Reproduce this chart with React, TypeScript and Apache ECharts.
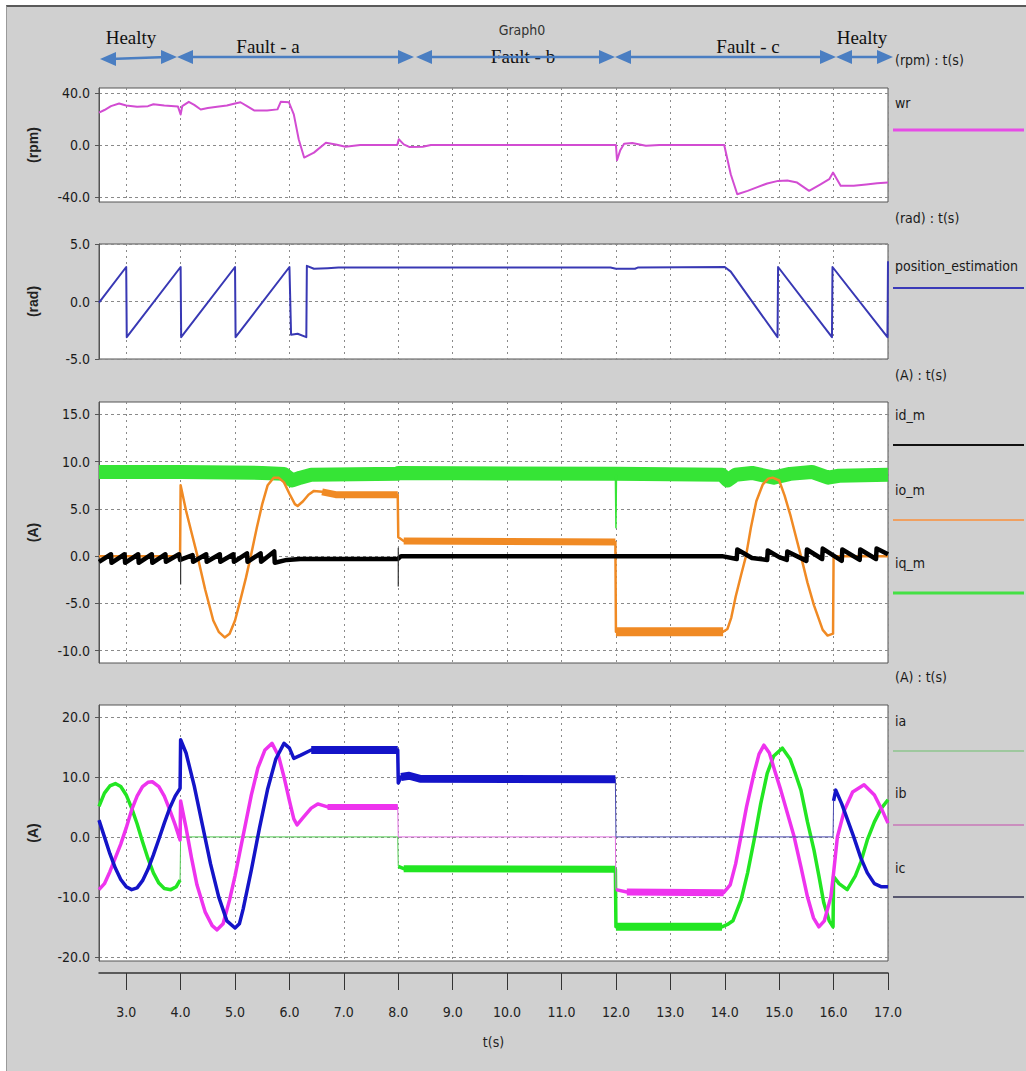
import React, { useEffect, useRef } from 'react';
import * as echarts from 'echarts';

type P = [number, number];

// ---------- tick values ----------
const xTicks = [3, 4, 5, 6, 7, 8, 9, 10, 11, 12, 13, 14, 15, 16, 17];
const wrTicks = [-40, 0, 40];
const posTicks = [-5, 0, 5];
const idqTicks = [-10, -5, 0, 5, 10, 15];
const abcTicks = [-20, -10, 0, 10, 20];

// ---------- panel 1 : wr (rpm) ----------
const wrData: P[] = [
  [2.5, 25], [2.6, 27], [2.72, 30], [2.87, 32], [3.0, 30.5], [3.2, 29.5], [3.4, 30], [3.5, 31.5],
  [3.7, 30.5], [3.95, 29.8], [4.0, 23.5], [4.03, 30], [4.15, 33.3], [4.25, 31], [4.37, 27.4],
  [4.5, 28.5], [4.67, 29.5], [4.85, 30.5], [4.98, 31.8], [5.1, 33], [5.22, 30], [5.35, 26.7],
  [5.59, 26.7], [5.78, 27.5], [5.84, 33.3], [5.99, 33], [6.08, 23.6], [6.17, 4.4], [6.27, -9.7],
  [6.45, -5.9], [6.67, 1.8], [6.85, 0.4], [7.03, -1.3], [7.3, 0], [7.98, 0], [8.01, 4.4],
  [8.1, 0.5], [8.2, -1.5], [8.45, -1.3], [8.6, 0], [12.0, 0], [12.02, -11.8], [12.08, -4],
  [12.15, 1], [12.3, 1.5], [12.55, -0.5], [12.8, 0], [13.99, 0], [14.11, -22.6], [14.23, -38],
  [14.42, -35.4], [14.6, -32.5], [14.78, -29.7], [14.98, -27.7], [15.15, -27.4], [15.33, -29],
  [15.55, -35.4], [15.76, -30.4], [15.92, -26.4], [15.99, -21.3], [16.13, -31.5], [16.37, -31.5],
  [16.6, -30.4], [16.8, -29.5], [17.0, -29],
];

// ---------- panel 2 : position_estimation (rad) ----------
const posData: P[] = [
  [2.5, -0.1], [3.0, 3.0], [3.01, -3.1], [4.0, 3.0], [4.01, -3.1], [5.0, 3.0], [5.01, -3.1],
  [6.0, 3.0], [6.03, -2.9], [6.15, -2.8], [6.31, -3.1], [6.32, 3.1], [6.45, 2.85], [6.7, 2.9],
  [6.9, 2.95], [11.9, 2.95], [12.0, 2.85], [12.35, 2.85], [12.4, 2.95], [14.0, 3.0], [14.11, 2.6],
  [14.97, -3.1], [14.98, 3.0], [15.97, -3.1], [15.98, 3.0], [16.99, -3.1], [17.0, 3.5],
];

// ---------- panel 3 : id_m / io_m / iq_m (A) ----------
const iqData: P[] = [
  [2.5, 8.9], [4.0, 8.9], [5.5, 8.8], [5.9, 8.7], [6.05, 8.0], [6.2, 8.3], [6.4, 8.6], [7.99, 8.7],
  [8.0, 8.8], [12.0, 8.7], [13.95, 8.6], [14.05, 8.0], [14.2, 8.6], [14.5, 8.8], [14.9, 8.3],
  [15.2, 8.7], [15.6, 8.9], [15.9, 8.3], [16.1, 8.5], [17.0, 8.6],
];
const iqSpike: P[] = [[11.99, 8.6], [12.0, 3.0], [12.01, 8.6]];

const ioData: P[] = [
  [2.5, 0], [3.99, 0], [4.0, 7.5], [4.1, 4.8], [4.2, 2.5], [4.31, 0], [4.45, -3.5], [4.6, -6.8],
  [4.7, -8.0], [4.81, -8.6], [4.9, -8.2], [5.0, -6.8], [5.1, -4.6], [5.2, -2.3], [5.29, 0],
  [5.4, 3.0], [5.5, 5.5], [5.6, 7.5], [5.71, 8.3], [5.8, 8.3], [5.9, 7.8], [6.0, 6.6], [6.1, 5.5],
  [6.15, 5.3], [6.25, 5.8], [6.35, 6.5], [6.45, 6.9], [6.6, 6.8], [6.85, 6.5], [7.99, 6.5],
  [8.0, 2.0], [8.1, 1.6], [11.99, 1.5], [12.0, -8.0], [13.97, -8.0], [14.05, -7.7], [14.12, -6.5],
  [14.2, -4.3], [14.3, -2], [14.39, 0], [14.48, 3], [14.58, 5.8], [14.7, 7.6], [14.8, 8.2],
  [14.88, 8.3], [15.0, 8.0], [15.1, 6.4], [15.21, 4.25], [15.4, 0], [15.52, -2.8], [15.64, -5.2],
  [15.8, -7.8], [15.89, -8.4], [15.99, -8.2], [16.0, 0], [17.0, 0],
];

const idData: P[] = [
  [2.5, -0.6], [2.72, 0.2], [2.73, -0.7], [2.97, 0.2], [2.98, -0.7], [3.22, 0.2], [3.23, -0.7],
  [3.47, 0.2], [3.48, -0.7], [3.72, 0.2], [3.73, -0.6], [3.97, 0.2], [3.99, -0.4], [4.22, 0.1],
  [4.23, -0.6], [4.47, 0.2], [4.48, -0.6], [4.72, 0.2], [4.73, -0.6], [4.97, 0.2], [4.98, -0.6],
  [5.22, 0.3], [5.23, -0.6], [5.47, 0.3], [5.48, -0.6], [5.72, 0.5], [5.73, -0.7], [5.95, -0.4],
  [6.2, -0.3], [7.99, -0.3], [8.05, 0], [13.95, 0], [14.22, -0.3], [14.23, 0.7], [14.5, -0.2],
  [14.78, -0.4], [14.79, 0.6], [15.0, -0.1], [15.14, -0.4], [15.15, 0.5], [15.5, -0.5],
  [15.51, 0.7], [15.79, -0.3], [15.8, 0.8], [16.15, -0.5], [16.16, 0.7], [16.48, -0.4],
  [16.49, 0.7], [16.78, -0.3], [16.79, 0.8], [17.0, 0.2],
];
const idSpikeA: P[] = [[4.0, 0], [4.0, -3.0]];
const idSpikeB: P[] = [[8.0, 0.9], [8.0, -3.2]];

// ---------- panel 4 : ia / ib / ic (A) ----------
const iaSeg1: P[] = [
  [2.5, 5.1], [2.6, 7.3], [2.7, 8.5], [2.8, 8.9], [2.9, 8.4], [3.0, 7.0], [3.1, 4.8], [3.2, 2.2],
  [3.3, -0.8], [3.4, -3.6], [3.5, -6.0], [3.6, -7.7], [3.7, -8.6], [3.82, -8.8], [3.92, -8.3],
  [3.99, -7.2],
];
const iaOpen: P[] = [[3.99, -7.2], [4.0, 0], [7.99, 0], [8.0, -4.9]];
const iaSeg2: P[] = [
  [8.0, -4.9], [8.1, -5.3], [11.99, -5.4], [12.0, -15.0], [13.95, -15.0], [14.05, -14.6],
  [14.15, -14.0], [14.3, -10.5], [14.42, -6], [14.54, -0.5], [14.66, 5.5], [14.78, 10.6],
  [14.9, 13.5], [15.06, 14.8], [15.2, 13], [15.3, 10.5], [15.4, 7.8], [15.52, 2.5], [15.64, -2.2],
  [15.73, -6.5], [15.82, -11], [15.92, -14], [15.99, -15], [16.0, -6.6], [16.1, -7.8],
  [16.25, -8.8], [16.4, -6.5], [16.5, -4.2], [16.62, -0.5], [16.75, 2.5], [16.88, 4.8], [17.0, 6.2],
];

const ibSeg1: P[] = [
  [2.5, -8.8], [2.6, -7.8], [2.7, -5.8], [2.8, -3.5], [2.9, -1.2], [3.0, 1.5], [3.1, 4.5],
  [3.2, 6.8], [3.3, 8.4], [3.4, 9.1], [3.48, 9.2], [3.6, 8.4], [3.7, 6.8], [3.8, 4.5], [3.9, 2.0],
  [3.99, -0.5], [4.0, 6.0], [4.1, 1.5], [4.2, -3.5],
  [4.3, -8], [4.45, -12.5], [4.58, -14.8], [4.67, -15.5], [4.78, -14.5], [4.9, -10.5], [5.0, -6.5],
  [5.1, -2.0], [5.2, 2.5], [5.3, 7.0], [5.42, 11.5], [5.55, 14.5], [5.68, 15.6], [5.8, 13.5],
  [5.9, 10], [6.0, 6], [6.08, 3], [6.14, 2.0], [6.25, 3.2], [6.4, 4.8], [6.52, 5.5], [6.7, 5.0],
  [7.99, 5.0],
];
const ibOpen: P[] = [[7.99, 5.0], [8.0, 0], [11.99, 0], [12.0, -8.8]];
const ibSeg2: P[] = [
  [12.0, -8.8], [12.2, -9.2], [13.98, -9.3], [14.1, -8.0], [14.2, -4.5], [14.29, -0.3], [14.4, 5],
  [14.54, 10.7], [14.63, 13.8], [14.72, 15.3], [14.82, 14], [14.92, 11], [15.03, 7.8], [15.15, 4],
  [15.27, 0.2], [15.4, -5], [15.52, -10], [15.63, -13.5], [15.73, -15], [15.83, -14], [15.95, -10],
  [16.0, -6], [16.07, 0], [16.2, 4.5], [16.35, 7.5], [16.56, 8.7], [16.75, 7], [16.9, 4.3],
  [17.0, 2.3],
];

const icSeg1: P[] = [
  [2.5, 2.8], [2.6, 0], [2.7, -2.8], [2.8, -5.2], [2.9, -7.1], [3.0, -8.3], [3.1, -8.8],
  [3.2, -8.5], [3.3, -7.3], [3.4, -5.4], [3.5, -3.0], [3.6, -0.4], [3.7, 2.3], [3.8, 4.8],
  [3.9, 6.8], [3.99, 8.1], [4.0, 16.2], [4.1, 14.0],
  [4.25, 8.5], [4.4, 2], [4.55, -4.5], [4.7, -10], [4.85, -14], [5.0, -15.2], [5.08, -14.5],
  [5.15, -12], [5.3, -5.5], [5.45, 1.5], [5.6, 8], [5.75, 13], [5.9, 15.6], [6.0, 14.8],
  [6.08, 13.1], [6.2, 13.6], [6.4, 14.5], [7.99, 14.5], [8.0, 9.0], [8.05, 10.0], [8.2, 10.2],
  [8.4, 9.7], [11.99, 9.6],
];
const icOpen: P[] = [[11.99, 9.6], [12.0, 0], [15.99, 0], [16.0, 6]];
const icSeg2: P[] = [
  [16.0, 6], [16.04, 7.8], [16.15, 5.5], [16.25, 3], [16.37, 0], [16.5, -3.5], [16.62, -6],
  [16.75, -7.8], [16.87, -8.3], [17.0, -8.3],
];

// ---------- annotations ----------
const phases = ['Healty', 'Fault - a', 'Fault - b', 'Fault - c', 'Healty'];

const SANS = '"Liberation Sans Narrow", "DejaVu Sans Condensed", "Liberation Sans", Arial, sans-serif';
const SANSB = '"Liberation Sans", Arial, sans-serif';
const SERIF = '"Liberation Serif", "Times New Roman", serif';

const band = (d: P[], t0: number, t1: number) => d.filter((p) => p[0] >= t0 && p[0] <= t1);

const gridLineStyle = { color: '#8a8a8a', type: [2, 4], width: 1 };

function xAxis(gi: number, bottom: boolean) {
  return {
    type: 'value',
    gridIndex: gi,
    position: 'bottom',
    min: 2.5,
    max: 17,
    offset: bottom ? 12 : 0,
    name: bottom ? 't(s)' : '',
    nameLocation: 'middle',
    nameGap: 62,
    nameTextStyle: { fontFamily: SANS, fontSize: 14, color: '#222' },
    axisLine: { show: bottom, onZero: false, lineStyle: { color: '#333', width: 1.5 } },
    axisTick: { show: bottom, length: 17, customValues: xTicks, lineStyle: { color: '#333', width: 1 } },
    axisLabel: {
      show: bottom,
      customValues: xTicks,
      margin: 32,
      formatter: (v: number) => v.toFixed(1),
      fontFamily: SANS,
      fontSize: 14,
      color: '#222',
    },
    splitLine: { show: true, lineStyle: gridLineStyle },
  };
}

function yAxis(gi: number, min: number, max: number, ticks: number[], name: string) {
  return {
    type: 'value',
    gridIndex: gi,
    min,
    max,
    name,
    nameLocation: 'middle',
    nameRotate: 90,
    nameGap: 59,
    nameTextStyle: { fontFamily: SANSB, fontSize: 14, fontWeight: 'bold', color: '#222' },
    axisLine: { show: true, lineStyle: { color: '#555' } },
    axisTick: { show: true, length: 4, customValues: ticks, lineStyle: { color: '#555' } },
    axisLabel: {
      show: true,
      customValues: ticks,
      margin: 9,
      formatter: (v: number) => v.toFixed(1),
      fontFamily: SANS,
      fontSize: 14,
      color: '#1a1a1a',
    },
    splitLine: { show: true, lineStyle: { color: '#8a8a8a', type: [3, 3], width: 1 } },
  };
}

function line(gi: number, data: P[], color: string, width: number, z = 2) {
  return {
    type: 'line',
    xAxisIndex: gi,
    yAxisIndex: gi,
    data,
    symbol: 'none',
    showSymbol: false,
    silent: true,
    clip: true,
    z,
    lineStyle: { color, width, cap: 'butt', join: 'round' },
  };
}

function arrow(x1: number, y1: number, x2: number, y2: number) {
  const c = '#4a7ec2';
  const L = 16;
  const H = 7;
  return [
    { type: 'line', shape: { x1: x1 + 10, y1, x2: x2 - 10, y2 }, style: { stroke: c, lineWidth: 2.5 } },
    { type: 'polygon', shape: { points: [[x1, y1], [x1 + L, y1 - H], [x1 + L, y1 + H]] }, style: { fill: c } },
    { type: 'polygon', shape: { points: [[x2, y2], [x2 - L, y2 - H], [x2 - L, y2 + H]] }, style: { fill: c } },
  ];
}

function txt(text: string, x: number, y: number, font: string, fill = '#1a1a1a', align = 'left') {
  return {
    type: 'text',
    x,
    y,
    style: { text, font, fill, textAlign: align, align, textVerticalAlign: 'middle', verticalAlign: 'middle' },
  };
}

function legendLine(y: number, color: string, w: number) {
  return { type: 'line', shape: { x1: 893, y1: y, x2: 1024, y2: y }, style: { stroke: color, lineWidth: w } };
}

export default function App() {
  const ref = useRef<HTMLDivElement>(null);

  useEffect(() => {
    document.body.style.margin = '0';
    if (!ref.current) return;
    const chart = echarts.init(ref.current, undefined, { renderer: 'svg' });

    const gridBase = { show: true, backgroundColor: '#ffffff', borderColor: '#555', borderWidth: 1, left: 99, width: 789 };

    const graphics: any[] = [
      txt(phases[0], 131, 37, `19px ${SERIF}`, '#111', 'center'),
      txt(phases[1], 268, 46, `19px ${SERIF}`, '#111', 'center'),
      txt('Graph0', 522, 30, `14px ${SANS}`, '#333', 'center'),
      txt(phases[2], 523, 56, `19px ${SERIF}`, '#111', 'center'),
      txt(phases[3], 748, 46, `19px ${SERIF}`, '#111', 'center'),
      txt(phases[4], 862, 37, `19px ${SERIF}`, '#111', 'center'),
      ...arrow(100, 59, 177, 57),
      ...arrow(177, 57, 414, 57),
      ...arrow(416, 57, 615, 57),
      ...arrow(615, 57, 836, 57),
      ...arrow(836, 57, 893, 57),
      txt('(rpm) : t(s)', 895, 60, `14px ${SANS}`),
      txt('wr', 895, 103, `14px ${SANS}`),
      legendLine(130, '#e64ce6', 3),
      txt('(rad) : t(s)', 895, 218, `14px ${SANS}`),
      txt('position_estimation', 895, 266, `14px ${SANS}`),
      legendLine(288, '#3a3ab8', 2),
      txt('(A) : t(s)', 895, 375, `14px ${SANS}`),
      txt('id_m', 895, 415, `14px ${SANS}`),
      legendLine(445, '#111111', 2),
      txt('io_m', 895, 490, `14px ${SANS}`),
      legendLine(520, '#f0a060', 2),
      txt('iq_m', 895, 563, `14px ${SANS}`),
      legendLine(593, '#44e044', 3),
      txt('(A) : t(s)', 895, 677, `14px ${SANS}`),
      txt('ia', 895, 721, `14px ${SANS}`),
      legendLine(751, '#6cbf6c', 1),
      txt('ib', 895, 793, `14px ${SANS}`),
      legendLine(825, '#c878b8', 1.5),
      txt('ic', 895, 868, `14px ${SANS}`),
      legendLine(897, '#303050', 1.5),
    ];

    chart.setOption({
      animation: false,
      backgroundColor: 'transparent',
      grid: [
        { ...gridBase, top: 88, height: 114 },
        { ...gridBase, top: 244, height: 115 },
        { ...gridBase, top: 402, height: 261 },
        { ...gridBase, top: 705, height: 256 },
      ],
      xAxis: [xAxis(0, false), xAxis(1, false), xAxis(2, false), xAxis(3, true)],
      yAxis: [
        yAxis(0, -44, 44, wrTicks, '(rpm)'),
        yAxis(1, -5, 5, posTicks, '(rad)'),
        yAxis(2, -11.3, 16.3, idqTicks, '(A)'),
        yAxis(3, -20.7, 22, abcTicks, '(A)'),
      ],
      graphic: graphics,
      series: [
        line(0, wrData, '#d24cd2', 2),
        line(1, posData, '#3838b4', 2),
        line(2, iqData, '#36e436', 14),
        line(2, iqSpike, '#36e436', 1.5),
        line(2, ioData, '#f08a24', 2.5, 3),
        line(2, band(ioData, 6.6, 7.99), '#f08a24', 7, 3),
        line(2, band(ioData, 8.1, 11.99), '#f08a24', 7, 3),
        line(2, band(ioData, 12.0, 13.97), '#f08a24', 9, 3),
        line(2, idData, '#000000', 4.5, 4),
        line(2, idSpikeA, '#333333', 1.2, 4),
        line(2, idSpikeB, '#333333', 1.2, 4),
        line(3, iaSeg1, '#22e622', 3.5, 2),
        line(3, iaOpen, '#55cc55', 1, 2),
        line(3, iaSeg2, '#22e622', 3.5, 2),
        line(3, band(iaSeg2, 8.1, 11.99), '#22e622', 7, 2),
        line(3, band(iaSeg2, 12.0, 13.95), '#22e622', 8, 2),
        line(3, ibSeg1, '#ee33ee', 3.5, 3),
        line(3, ibOpen, '#e070e0', 1, 3),
        line(3, ibSeg2, '#ee33ee', 3.5, 3),
        line(3, band(ibSeg1, 6.7, 7.99), '#ee33ee', 6, 3),
        line(3, band(ibSeg2, 12.2, 13.98), '#ee33ee', 7, 3),
        line(3, icSeg1, '#1414c8', 3.5, 4),
        line(3, icOpen, '#4a4ab0', 1, 4),
        line(3, icSeg2, '#1414c8', 3.5, 4),
        line(3, band(icSeg1, 6.4, 7.99), '#1414c8', 8, 4),
        line(3, band(icSeg1, 8.05, 11.99), '#1414c8', 8, 4),
      ],
    });

    return () => chart.dispose();
  }, []);

  return (
    <div style={{ position: 'relative', width: 1026, height: 1071, background: '#ffffff', overflow: 'hidden' }}>
      <div
        style={{
          position: 'absolute',
          left: 6,
          top: 5,
          right: 0,
          bottom: 0,
          background: '#d0d0d0',
          borderTop: '2px solid #5a5a5a',
          borderLeft: '1px solid #9a9a9a',
        }}
      />
      <div ref={ref} style={{ position: 'absolute', left: 0, top: 0, width: 1026, height: 1071 }} />
    </div>
  );
}
